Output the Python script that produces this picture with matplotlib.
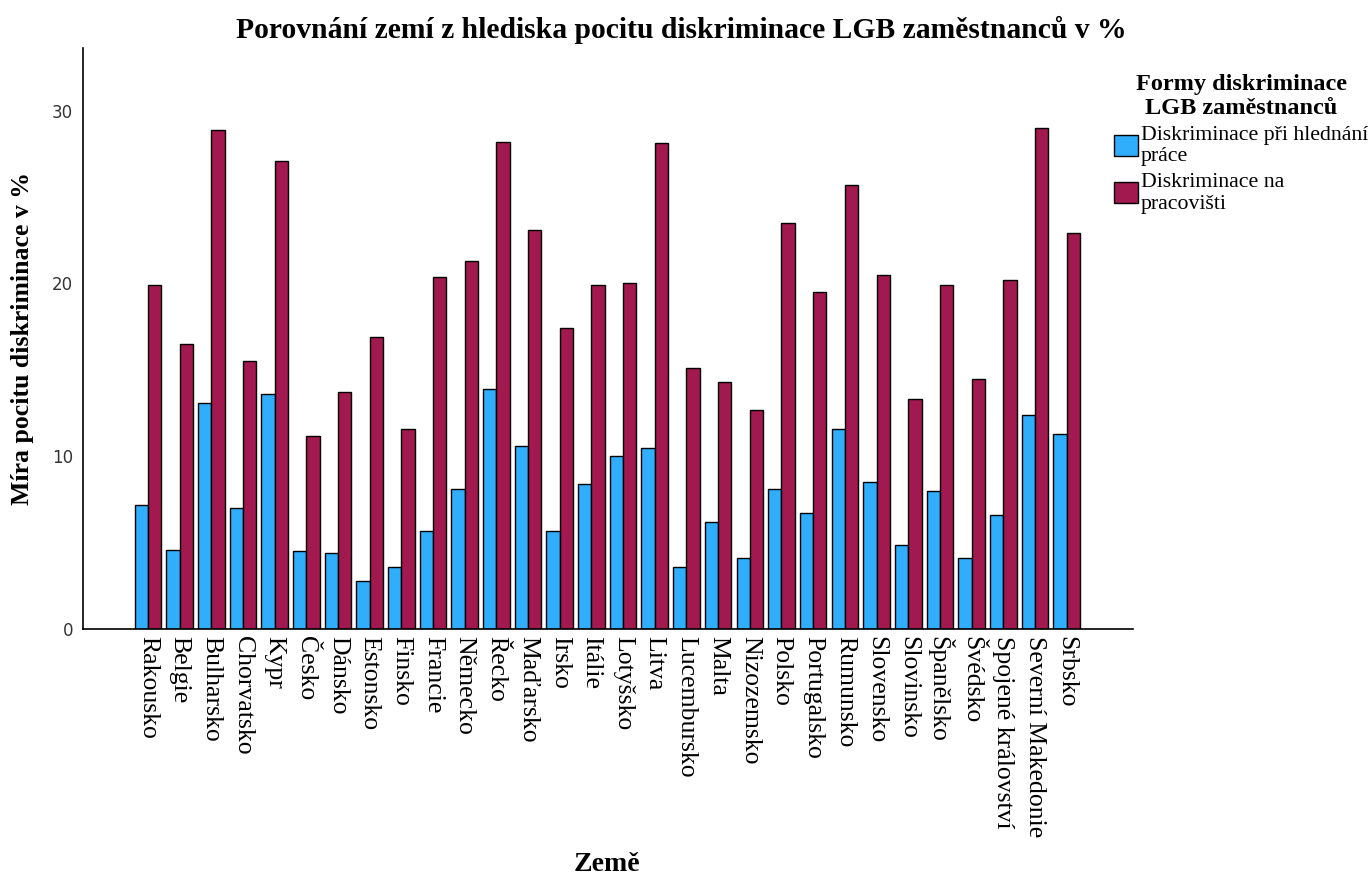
import matplotlib
matplotlib.use('Agg')
import matplotlib.pyplot as plt
import numpy as np

countries = [
    'Rakousko', 'Belgie', 'Bulharsko', 'Chorvatsko', 'Kypr', 'Česko',
    'Dánsko', 'Estonsko', 'Finsko', 'Francie', 'Německo', 'Řecko',
    'Maďarsko', 'Irsko', 'Itálie', 'Lotyšsko', 'Litva', 'Lucembursko',
    'Malta', 'Nizozemsko', 'Polsko', 'Portugalsko', 'Rumunsko',
    'Slovensko', 'Slovinsko', 'Španělsko', 'Švédsko',
    'Spojené království', 'Severní Makedonie', 'Srbsko'
]

# pri hledani prace
job_search = [
    7.2, 4.6, 13.1, 7.0, 13.6, 4.5, 4.4, 2.8, 3.6, 5.7,
    8.1, 13.9, 10.6, 5.7, 8.4, 10.0, 10.5, 3.6, 6.2, 4.1,
    8.1, 6.7, 11.6, 8.5, 4.9, 8.0, 4.1, 6.6, 12.4, 11.3
]

# na pracovisti
workplace = [
    19.9, 16.5, 28.9, 15.5, 27.1, 11.2, 13.7, 16.9, 11.6, 20.4,
    21.3, 28.2, 23.1, 17.4, 19.9, 20.0, 28.1, 15.1, 14.3, 12.7,
    23.5, 19.5, 25.7, 20.5, 13.3, 19.9, 14.5, 20.2, 29.0, 22.9
]

series_names = ['Diskriminace při hlednání\npráce', 'Diskriminace na\npracovišti']
colors = ['#30aefc', '#a1194e']

serif = ['Liberation Serif', 'DejaVu Serif']

fig = plt.figure(figsize=(13.71, 8.80), dpi=100)
ax = fig.add_axes([0.0605, 0.285, 0.766, 0.66])

x = np.arange(len(countries))
w = 0.42
b1 = ax.bar(x - w / 2, job_search, w, color=colors[0], edgecolor='black', linewidth=1.0,
            label=series_names[0])
b2 = ax.bar(x + w / 2, workplace, w, color=colors[1], edgecolor='black', linewidth=1.0,
            label=series_names[1])

ax.set_xlim(-2.05, len(countries) + 1.1)
ax.set_ylim(0, 33.6)
ax.set_yticks([0, 10, 20, 30])
ax.set_xticks(x)
ax.set_xticklabels(countries, rotation=-90, family=serif, fontsize=18.5, va='top', ha='center')
ax.tick_params(axis='both', length=0)
ax.tick_params(axis='y', labelsize=12, labelcolor='#333333', pad=7)
ax.tick_params(axis='x', pad=5)

for side in ['top', 'right']:
    ax.spines[side].set_visible(False)
for side in ['left', 'bottom']:
    ax.spines[side].set_linewidth(1.2)

ax.set_ylabel('Míra pocitu diskriminace v %', family=serif, fontsize=18.5,
              fontweight='bold')
ax.yaxis.set_label_coords(-0.047, 0.5)
fig.text(0.443, 0.003, 'Země', family=serif, fontsize=20, fontweight='bold',
         ha='center', va='bottom')
fig.text(0.497, 0.966, 'Porovnání zemí z hlediska pocitu diskriminace LGB zaměstnanců v %',
         family=serif, fontsize=21.3, fontweight='bold', ha='center', va='center')

leg = fig.legend(handles=[b1, b2], loc='upper left', bbox_to_anchor=(0.806, 0.926),
                 frameon=False, prop={'family': serif, 'size': 15.7},
                 title='Formy diskriminace\nLGB zaměstnanců',
                 title_fontproperties={'family': serif, 'size': 17.5, 'weight': 'bold'},
                 handlelength=1.1, handleheight=1.1, handletextpad=0.15,
                 labelspacing=0.3, borderaxespad=0)
leg.get_title().set_multialignment('center')

fig.savefig('out.png', dpi=100)
